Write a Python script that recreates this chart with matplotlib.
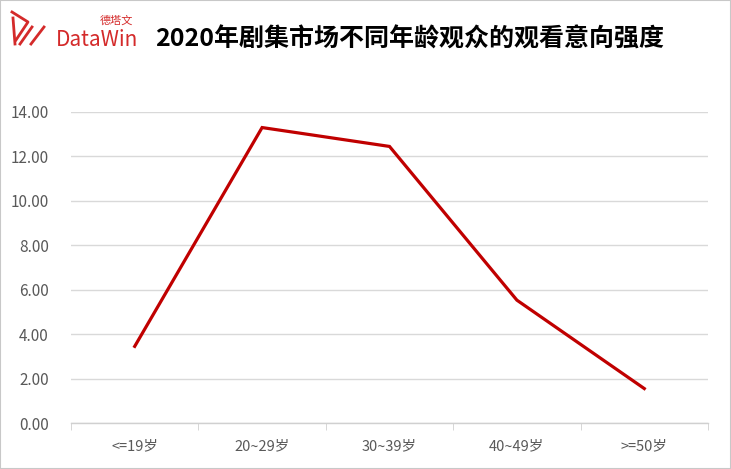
import numpy as np
import matplotlib.pyplot as plt
from matplotlib.patches import Rectangle

plt.rcParams['font.family'] = ['Noto Sans CJK SC', 'DejaVu Sans']

# data
categories = ['<=19岁', '20~29岁', '30~39岁', '40~49岁', '>=50岁']
values = [3.45, 13.30, 12.45, 5.53, 1.55]
yticks = [0, 2, 4, 6, 8, 10, 12, 14]

W, H = 731, 469
fig = plt.figure(figsize=(W / 100, H / 100), dpi=100)
fig.patch.set_facecolor('white')
fig.patches.append(Rectangle((0, 0), 1, 1, transform=fig.transFigure,
                             fill=False, edgecolor='#c8c8c8', linewidth=1.5))

ax = fig.add_axes([71 / W, 1 - 423 / H, (708 - 71) / W, (423 - 112) / H])
x = np.arange(len(categories))
ax.plot(x, values, color='#c00000', linewidth=2.3, solid_joinstyle='miter')

ax.set_xlim(-0.5, len(categories) - 0.5)
ax.set_ylim(0, 14)
ax.set_yticks(yticks)
ax.set_yticklabels(['%.2f' % v for v in yticks])
ax.yaxis.grid(True, color='#d9d9d9', linewidth=1)
ax.set_axisbelow(True)
for s in ['top', 'right', 'left']:
    ax.spines[s].set_visible(False)
ax.spines['bottom'].set_color('#d0d0d0')
ax.spines['bottom'].set_linewidth(1)

ax.set_xticks(x)
ax.set_xticklabels(categories)
ax.set_xticks(np.arange(-0.5, len(categories)), minor=True)
ax.tick_params(axis='x', which='major', length=0, pad=12, labelsize=10.5, labelcolor='#595959')
ax.tick_params(axis='x', which='minor', length=5, color='#d0d0d0', direction='out')
ax.tick_params(axis='y', length=0, pad=16, labelsize=11, labelcolor='#595959')

# title
fig.text(410 / W, 1 - 40 / H, '2020年剧集市场不同年龄观众的观看意向强度',
         ha='center', va='center', fontsize=18, fontweight='bold', color='black')

# logo
red = '#d42a2a'
fig.text(56 / W, 1 - 40 / H, 'DataWin', ha='left', va='center', fontsize=15, color=red)
fig.text(100 / W, 1 - 21 / H, '德塔文', ha='left', va='center', fontsize=8, color=red)
strokes = [
    ([12, 28, 16], [12, 22, 40]),
    ([13, 15], [18, 44]),
    ([20, 32], [44, 27]),
    ([31, 44], [44, 27]),
]
for sx, sy in strokes:
    fig.add_artist(plt.Line2D([v / W for v in sx], [1 - v / H for v in sy],
                              color=red, linewidth=2.0))

fig.savefig('out.png', dpi=100)
